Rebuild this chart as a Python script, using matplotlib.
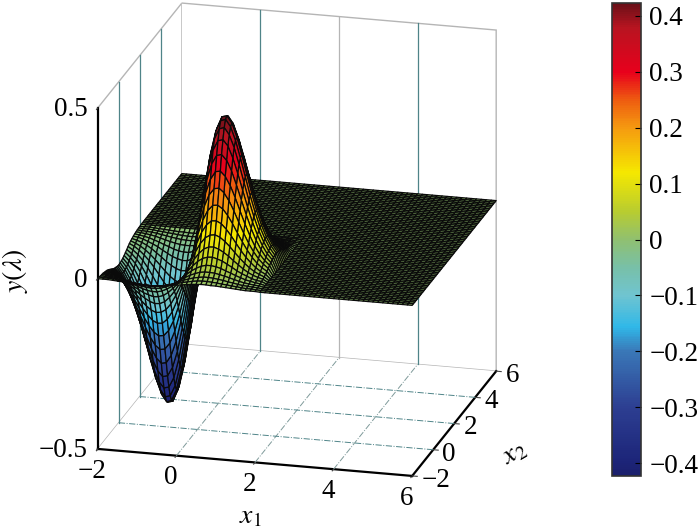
import numpy as np
import matplotlib
matplotlib.use('Agg')
import matplotlib.pyplot as plt
from matplotlib.colors import LinearSegmentedColormap, Normalize
from matplotlib.cm import ScalarMappable

plt.rcParams['font.family'] = ['Liberation Serif', 'DejaVu Serif']
plt.rcParams['mathtext.fontset'] = 'stix'

X1_TICKS = [-2, 0, 2, 4, 6]
X2_TICKS = [-2, 0, 2, 4, 6]
X_TICK_LABELS = ['\u22122', '0', '2', '4', '6']
Y_TICKS = [-0.5, 0, 0.5]
Y_TICK_LABELS = ['\u22120.5', '0', '0.5']
BAR_TICKS = [-0.4, -0.3, -0.2, -0.1, 0, 0.1, 0.2, 0.3, 0.4]
BAR_LABELS = ['\u22120.4', '\u22120.3', '\u22120.2', '\u22120.1', '0', '0.1', '0.2', '0.3', '0.4']
BAR_LIMIT = 0.423

# colour bar (value, colour)
BAR_VALUES = [-0.423, -0.4, -0.3, -0.2, -0.157, -0.1, -0.05, 0, 0.05, 0.12, 0.2, 0.25, 0.3, 0.38, 0.423]
BAR_COLORS = ['#1b1f6b', '#1c2478', '#2d3f92', '#3a78b8', '#30b8e8', '#70c4d0', '#78c0a8', '#90c070',
              '#b8cc30', '#f5e800', '#f59a10', '#ee5c10', '#e8001c', '#b81420', '#6a1018']

# y, step 0.125. rows x2 = 0..2, columns x1 = 0.125..2.
# the lobes mirror in x2 and flip sign in x1, flat zero beyond the table
Y_LOBE = [
 [.123,.235,.326,.389,.423,.427,.407,.368,.317,.262,.208,.158,.116,.082,.056,.037],
 [.121,.231,.321,.383,.416,.421,.401,.362,.312,.258,.204,.156,.114,.081,.055,.036],
 [.116,.221,.306,.366,.397,.402,.382,.346,.298,.246,.195,.149,.109,.077,.052,.034],
 [.107,.204,.283,.338,.367,.371,.354,.320,.276,.228,.180,.137,.101,.071,.048,.032],
 [.096,.183,.254,.303,.329,.333,.317,.287,.247,.204,.162,.123,.090,.064,.043,.029],
 [.083,.159,.220,.263,.286,.289,.275,.249,.215,.177,.140,.107,.078,.055,.038,.025],
 [.070,.134,.186,.222,.241,.244,.232,.210,.181,.149,.118,.090,.066,.047,.032,.021],
 [.057,.109,.151,.181,.197,.199,.189,.171,.148,.122,.097,.074,.054,.038,.026,.017],
 [.045,.086,.120,.143,.156,.157,.150,.135,.117,.096,.076,.058,.043,.030,.020,.013],
 [.035,.066,.092,.110,.119,.121,.115,.104,.090,.074,.059,.045,.033,.023,.016,.010],
 [.026,.049,.068,.082,.089,.090,.085,.077,.067,.055,.044,.033,.024,.017,.012,.008],
 [.019,.035,.049,.059,.064,.065,.061,.056,.048,.040,.031,.024,.018,.012,.008,.006],
 [.013,.025,.034,.041,.045,.045,.043,.039,.033,.028,.022,.017,.012,.009,.006,.004],
 [.009,.017,.023,.028,.030,.030,.029,.026,.023,.019,.015,.011,.008,.006,.004,.003],
 [.006,.011,.015,.018,.020,.020,.019,.017,.015,.012,.010,.007,.005,.004,.003,.002],
 [.004,.007,.010,.012,.013,.013,.012,.011,.009,.008,.006,.005,.003,.002,.002,.001],
 [.002,.004,.006,.007,.008,.008,.007,.007,.006,.005,.004,.003,.002,.001,.001,.001],
]

FIG_W, FIG_H = 700, 530
TEAL = '#4f8488'
GREY = '#b5b5b5'

x1 = np.linspace(-2, 6, 65)
x2 = np.linspace(-2, 6, 65)
X1, X2 = np.meshgrid(x1, x2)

lobe = np.array(Y_LOBE)
lobe = np.hstack([np.zeros((lobe.shape[0], 1)), lobe])
lobe = np.vstack([lobe[:0:-1], lobe])
lobe = np.hstack([-lobe[:, :0:-1], lobe])
Y = np.zeros_like(X1)
Y[:33, :33] = lobe

stops = [(v + BAR_LIMIT) / (2 * BAR_LIMIT) for v in BAR_VALUES]
cmap = LinearSegmentedColormap.from_list('bar', list(zip(stops, BAR_COLORS)), N=256)
norm = Normalize(-BAR_LIMIT, BAR_LIMIT)

fig = plt.figure(figsize=(FIG_W / 100, FIG_H / 100), dpi=100)

# square axes placed so the orthographic box lands where it is in the picture
side = 570.6
ax = fig.add_axes([4 / FIG_W, (FIG_H - 532.5) / FIG_H, side / FIG_W, side / FIG_H],
                  projection='3d', proj_type='ortho', computed_zorder=False)
ax.patch.set_alpha(0)
ax.view_init(elev=19.1, azim=-75.3)
ax.set_box_aspect((325, 331, 361))
ax.set_xlim(-2, 6)
ax.set_ylim(-2, 6)
ax.set_zlim(-0.5, 0.5)

for axis in (ax.xaxis, ax.yaxis, ax.zaxis):
    axis.set_pane_color((1, 1, 1, 1))
    axis.line.set_color('k')
    axis.line.set_linewidth(1.6)
    axis._axinfo['tick']['inward_factor'] = 0.2
    axis._axinfo['tick']['outward_factor'] = 0.0
ax.xaxis.pane.set_edgecolor(GREY)
ax.yaxis.pane.set_edgecolor(GREY)
ax.zaxis.pane.set_edgecolor('none')
ax.grid(False)

ax.set_xticks(X1_TICKS, X_TICK_LABELS)
ax.set_yticks(X2_TICKS, X_TICK_LABELS)
ax.set_zticks(Y_TICKS, Y_TICK_LABELS)
ax.zaxis.set_ticks_position('lower')
ax.tick_params(labelsize=19.5, color='#444444', width=1.2)
ax.tick_params(axis='x', pad=5.8)
ax.tick_params(axis='y', pad=-1.7)
ax.tick_params(axis='z', pad=-2.5)
for lab in ax.get_xticklabels():
    lab.set_va('baseline')
for lab in ax.get_yticklabels():
    lab.set_ha('left')
    lab.set_va('baseline')
for lab in ax.get_zticklabels():
    lab.set_ha('right')
    lab.set_va('center')

# grid: solid verticals on the walls, dash-dot on the floor
for t, c in zip(X1_TICKS[1:-1], [TEAL, GREY, TEAL]):
    ax.plot([t, t], [6, 6], [-0.5, 0.5], color=c, lw=0.9, zorder=1)
    ax.plot([t, t], [-2, 6], [-0.5, -0.5], color='#7f9a9a', lw=0.7, ls='-.', zorder=1)
for t in X2_TICKS[1:-1]:
    ax.plot([-2, -2], [t, t], [-0.5, 0.5], color=TEAL, lw=0.9, zorder=1)
    ax.plot([-2, 6], [t, t], [-0.5, -0.5], color=TEAL, lw=0.7, ls='-.', zorder=1)

ax.plot_surface(X1, X2, Y, rstride=1, cstride=1, cmap=cmap, norm=norm,
                edgecolor='#0a0a0a', linewidth=0.9, antialiased=True, shade=False, zorder=2)

# axis titles, placed by pixel since the 3d labels cannot reach these spots
fig.text(250 / FIG_W, 1 - 517 / FIG_H, r'$x_1$', fontsize=20, ha='center', va='center')
fig.text(514 / FIG_W, 1 - 453 / FIG_H, r'$x_2$', fontsize=20, ha='center', va='center', rotation=30)
fig.text(15 / FIG_W, 1 - 271 / FIG_H, r'$y(\lambda)$', fontsize=20, ha='center', va='center', rotation=90)

cax = fig.add_axes([612 / FIG_W, (FIG_H - 476) / FIG_H, 29 / FIG_W, 473 / FIG_H])
cb = fig.colorbar(ScalarMappable(norm=norm, cmap=cmap), cax=cax)
cb.set_ticks(BAR_TICKS, labels=BAR_LABELS)
cb.ax.tick_params(labelsize=19.5, length=4, width=0.8, direction='in', pad=6)
cb.outline.set_edgecolor('#333333')
cb.outline.set_linewidth(1.2)

fig.savefig('out.png', dpi=100)
